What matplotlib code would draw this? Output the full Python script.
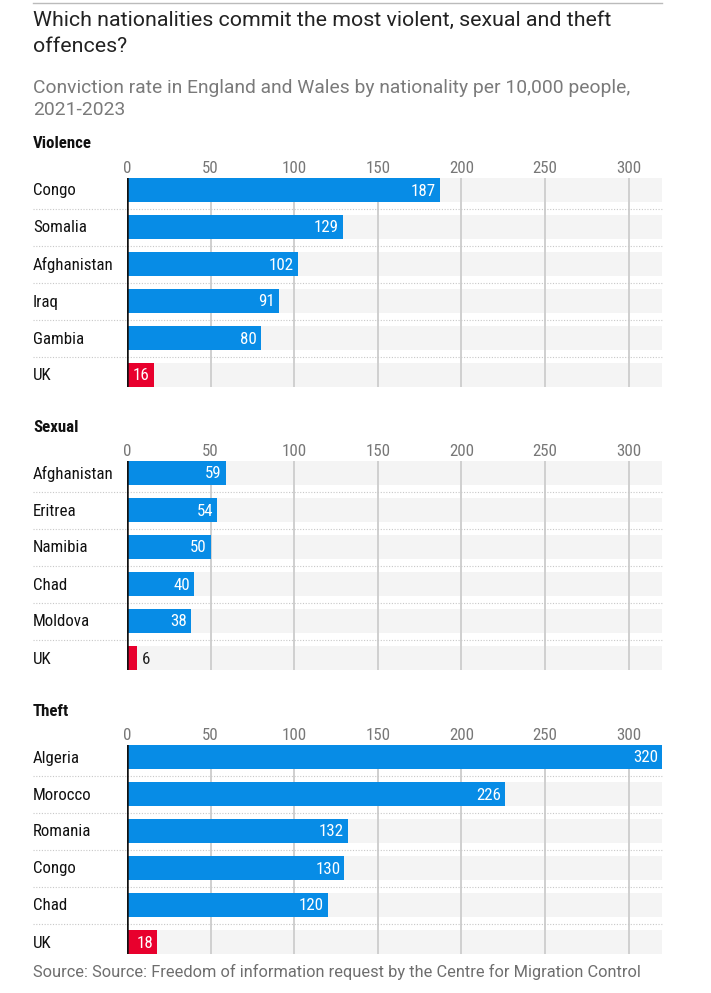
import matplotlib.pyplot as plt
from matplotlib.lines import Line2D

violence_countries = ["Congo", "Somalia", "Afghanistan", "Iraq", "Gambia", "UK"]
violence_values = [187, 129, 102, 91, 80, 16]
sexual_countries = ["Afghanistan", "Eritrea", "Namibia", "Chad", "Moldova", "UK"]
sexual_values = [59, 54, 50, 40, 38, 6]
theft_countries = ["Algeria", "Morocco", "Romania", "Congo", "Chad", "UK"]
theft_values = [320, 226, 132, 130, 120, 18]
ticks = [0, 50, 100, 150, 200, 250, 300]

sections = [
    ("Violence", violence_countries, violence_values, 190),
    ("Sexual", sexual_countries, sexual_values, 473),
    ("Theft", theft_countries, theft_values, 757),
]

W, H = 711, 993
NARROW = ["Roboto Condensed", "DejaVu Sans"]
SANS = ["Roboto", "DejaVu Sans"]
BLUE = "#078ce6"
RED = "#e8002d"
BAND = "#f4f4f4"
FS = 12.2

fig = plt.figure(figsize=(W / 100, H / 100), dpi=100)

def fx(px):
    return px / W

def fy(py):
    return 1 - py / H

# top rule
fig.add_artist(Line2D([fx(33), fx(662)], [fy(3), fy(3)], color="#bbbbbb", lw=1))

fig.text(fx(33), fy(20), "Which nationalities commit the most violent, sexual and theft",
         fontsize=15.4, color="#222222", family=SANS, va="center")
fig.text(fx(33), fy(47), "offences?", fontsize=15.4, color="#222222", family=SANS, va="center")
fig.text(fx(33), fy(88), "Conviction rate in England and Wales by nationality per 10,000 people,",
         fontsize=13.9, color="#7a7a7a", family=SANS, va="center")
fig.text(fx(33), fy(110), "2021-2023", fontsize=13.9, color="#7a7a7a", family=SANS, va="center")

x0, x1 = 127, 662
row, bar_h = 37, 24
xmin_label = -(x0 - 33) / (x1 - x0)

for title, countries, values, c0 in sections:
    top = c0 - bar_h / 2
    bottom = c0 + 5 * row + bar_h / 2
    ax = fig.add_axes([fx(x0), fy(bottom), fx(x1) - fx(x0), (bottom - top) / H])
    n = len(countries)
    ys = list(range(n))
    hh = bar_h / row
    ax.barh(ys, [320] * n, height=hh, color=BAND, zorder=0)
    for t in ticks[1:]:
        ax.axvline(t, color="#cfcfcf", lw=1.4, zorder=1)
    colors = [BLUE] * (n - 1) + [RED]
    ax.barh(ys, values, height=hh, color=colors, zorder=2)
    ax.axvline(0, color="#111111", lw=1.8, zorder=3)
    for i in range(n - 1):
        ax.axhline(i + 0.5, xmin=xmin_label, xmax=1, color="#c8c8c8", lw=0.8,
                   ls=(0, (1, 1.5)), clip_on=False)
    for y, name, v in zip(ys, countries, values):
        ax.annotate(name, (xmin_label, y), xycoords=ax.get_yaxis_transform(), xytext=(0, -1),
                    textcoords="offset pixels", ha="left", va="center", fontsize=FS,
                    color="#111111", family=NARROW, annotation_clip=False)
        if v >= 10:
            ax.annotate(str(v), (v, y), xytext=(-4, -1), textcoords="offset pixels",
                        ha="right", va="center", fontsize=FS, color="white", family=NARROW, zorder=4)
        else:
            ax.annotate(str(v), (v, y), xytext=(5, -1), textcoords="offset pixels",
                        ha="left", va="center", fontsize=FS, color="#222222", family=NARROW, zorder=4)
    ax.set_xlim(0, 320)
    ax.set_ylim(n - 1 + hh / 2, -hh / 2)
    ax.xaxis.tick_top()
    ax.set_xticks(ticks)
    ax.set_xticklabels([str(t) for t in ticks], family=NARROW, fontsize=FS, color="#777777")
    ax.tick_params(axis="x", length=0, pad=1.5)
    ax.set_yticks([])
    for s in ax.spines.values():
        s.set_visible(False)
    fig.text(fx(33), fy(c0 - 46), title, fontsize=FS, fontweight="bold", color="#111111",
             family=NARROW, va="center")

fig.text(fx(33), fy(972), "Source: Source: Freedom of information request by the Centre for Migration Control",
         fontsize=11.75, color="#6e6e6e", family=SANS, va="center")

fig.savefig("out.png", dpi=100)
